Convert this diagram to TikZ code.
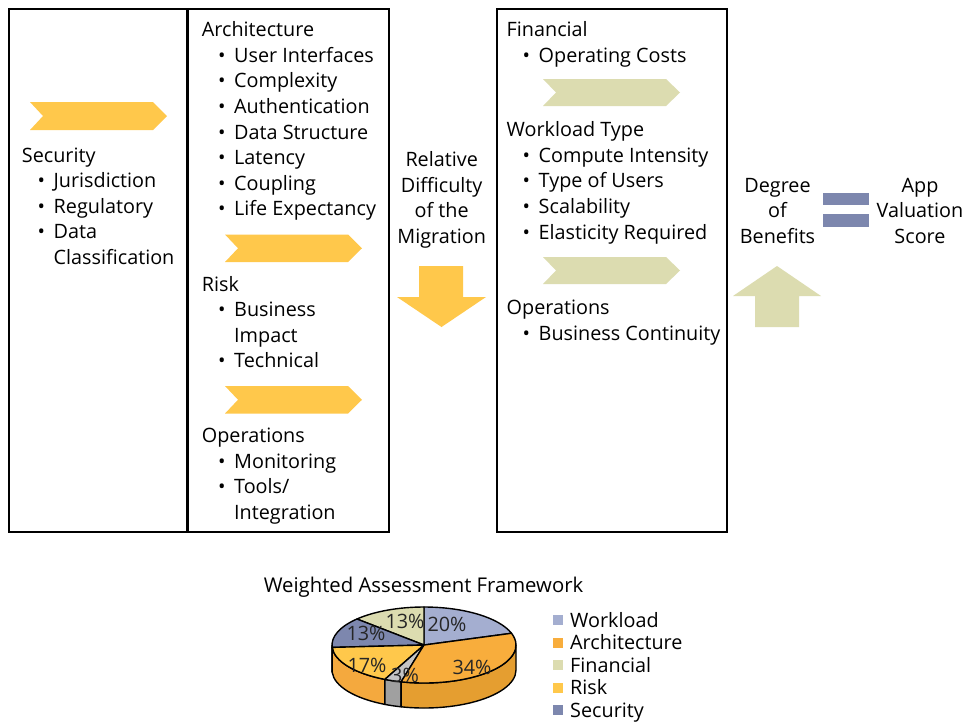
\documentclass[tikz,border=0pt]{standalone}
\usepackage{fontspec}
\setmainfont{Open Sans}
\definecolor{cgold}{HTML}{FFC84B}
\definecolor{ctan}{HTML}{DCDCB0}
\definecolor{cslate}{HTML}{7D87AE}
\definecolor{cwork}{HTML}{A4AED0}
\definecolor{carch}{HTML}{F8AD3C}
\definecolor{carchside}{HTML}{E59E30}
\definecolor{criskside}{HTML}{F4A93E}
\definecolor{cgray}{HTML}{C4C4C4}
\definecolor{cgrayside}{HTML}{A0A0A0}
\definecolor{csecside}{HTML}{65709A}
\newcommand\itm[1]{\makebox[16pt][l]{\textbullet}#1}
\tikzset{
  txt/.style={anchor=base west, inner sep=0pt, font=\fontsize{19.8}{24}\selectfont, text=black},
  ctxt/.style={anchor=base, inner sep=0pt, font=\fontsize{19.8}{24}\selectfont, text=black},
  pct/.style={anchor=center, inner sep=0pt, font=\fontsize{19.8}{24}\selectfont, text=black!85},
  frame/.style={draw=black, line width=2.3pt},
  pieline/.style={draw=black, line width=1.4pt, line join=round},
}
\begin{document}
\begin{tikzpicture}[x=1pt,y=-1pt]
\useasboundingbox[fill=white] (0,0) rectangle (966,721);
% frames
\draw[frame] (9,9) rectangle (389,532);
\draw[frame] (187.5,9) -- (187.5,532);
\draw[frame] (497,9) rectangle (727,532);
% chevrons
\fill[cgold] (30,102) -- (153,102) -- (167,116) -- (153,130) -- (30,130) -- (43,116) -- cycle;
\fill[cgold] (225,234.5) -- (348,234.5) -- (362,248.25) -- (348,262) -- (225,262) -- (238,248.25) -- cycle;
\fill[cgold] (225,386) -- (348,386) -- (362,399.75) -- (348,413.5) -- (225,413.5) -- (238,399.75) -- cycle;
\fill[ctan] (543,79) -- (666,79) -- (680,92.5) -- (666,106) -- (543,106) -- (556,92.5) -- cycle;
\fill[ctan] (543,257) -- (666,257) -- (680,270.5) -- (666,284) -- (543,284) -- (556,270.5) -- cycle;
% left column
\node[txt] (sec) at (21.7,162) {Security};
\node[txt] (sec1) at (37.5,187.6) {\itm{Jurisdiction}};
\node[txt] (sec2) at (37.5,213.2) {\itm{Regulatory}};
\node[txt] (sec3) at (37.5,238.8) {\itm{Data}};
\node[txt] (sec4) at (53.5,264.4) {Classification};
% middle column
\node[txt] (arc0) at (201.7,36.7) {Architecture};
\node[txt] (arc1) at (218,62.3) {\itm{User Interfaces}};
\node[txt] (arc2) at (218,87.9) {\itm{Complexity}};
\node[txt] (arc3) at (218,113.5) {\itm{Authentication}};
\node[txt] (arc4) at (218,139.1) {\itm{Data Structure}};
\node[txt] (arc5) at (218,164.7) {\itm{Latency}};
\node[txt] (arc6) at (218,190.3) {\itm{Coupling}};
\node[txt] (arc7) at (218,215.9) {\itm{Life Expectancy}};
\node[txt] (rsk0) at (201.7,291) {Risk};
\node[txt] (rsk1) at (218,316.6) {\itm{Business}};
\node[txt] (rsk2) at (234,342.2) {Impact};
\node[txt] (rsk3) at (218,367.8) {\itm{Technical}};
\node[txt] (ops0) at (201.7,442.7) {Operations};
\node[txt] (ops1) at (218,468.3) {\itm{Monitoring}};
\node[txt] (ops2) at (218,493.9) {\itm{Tools/}};
\node[txt] (ops3) at (234,519.5) {Integration};
% relative difficulty
\node[ctxt] (rd1) at (441.7,166.7) {Relative};
\node[ctxt] (rd2) at (441.7,192.3) {Difficulty};
\node[ctxt] (rd3) at (441.7,217.9) {of the};
\node[ctxt] (rd4) at (441.7,243.5) {Migration};
\fill[cgold] (419,266) -- (463,266) -- (463,297) -- (486,297) -- (441.5,327) -- (397,297) -- (419,297) -- cycle;
% right column
\node[txt] (fin0) at (506.5,36.7) {Financial};
\node[txt] (fin1) at (522.5,62.3) {\itm{Operating Costs}};
\node[txt] (wl0) at (506.5,136.7) {Workload Type};
\node[txt] (wl1) at (522.5,162.3) {\itm{Compute Intensity}};
\node[txt] (wl2) at (522.5,187.9) {\itm{Type of Users}};
\node[txt] (wl3) at (522.5,213.5) {\itm{Scalability}};
\node[txt] (wl4) at (522.5,239.1) {\itm{Elasticity Required}};
\node[txt] (op0) at (506.5,314.7) {Operations};
\node[txt] (op1) at (522.5,340.3) {\itm{Business Continuity}};
% degree of benefits
\node[ctxt] (db1) at (777.5,192.3) {Degree};
\node[ctxt] (db2) at (777.5,217.9) {of};
\node[ctxt] (db3) at (777.5,243.5) {Benefits};
\fill[ctan] (777,266) -- (821,296) -- (799,296) -- (799,327) -- (755,327) -- (755,296) -- (733,296) -- cycle;
\fill[cslate] (823,193) rectangle (869,205);
\fill[cslate] (823,214) rectangle (869,227);
\node[ctxt] (av1) at (920,192.3) {App};
\node[ctxt] (av2) at (920,217.9) {Valuation};
\node[ctxt] (av3) at (920,243.5) {Score};
% pie chart
\node[ctxt, font=\fontsize{20.3}{24}\selectfont] (tit) at (423.5,592) {Weighted Assessment Framework};
\begin{scope}[shift={(424,645)}]
  % sides
  \fill[csecside] (-180:92pt and 38pt) arc[start angle=-180,end angle=-176.4,x radius=92pt,y radius=38pt] -- ++(0pt,-25pt) arc[start angle=-176.4,end angle=-180,x radius=92pt,y radius=38pt] -- cycle;
  \filldraw[pieline,fill=criskside] (-176.4:92pt and 38pt) arc[start angle=-176.4,end angle=-115.2,x radius=92pt,y radius=38pt] -- ++(0pt,-25pt) arc[start angle=-115.2,end angle=-176.4,x radius=92pt,y radius=38pt] -- cycle;
  \filldraw[pieline,fill=cgrayside] (-115.2:92pt and 38pt) arc[start angle=-115.2,end angle=-104.4,x radius=92pt,y radius=38pt] -- ++(0pt,-25pt) arc[start angle=-104.4,end angle=-115.2,x radius=92pt,y radius=38pt] -- cycle;
  \filldraw[pieline,fill=carchside] (-104.4:92pt and 38pt) arc[start angle=-104.4,end angle=0,x radius=92pt,y radius=38pt] -- ++(0pt,-25pt) arc[start angle=0,end angle=-104.4,x radius=92pt,y radius=38pt] -- cycle;
  \draw[pieline] (-180:92pt and 38pt) -- ++(0pt,-25pt) arc[start angle=-180,end angle=-176.4,x radius=92pt,y radius=38pt];
  % tops
  \filldraw[pieline,fill=cwork] (0pt,0pt) -- (18:92pt and 38pt) arc[start angle=18,end angle=90,x radius=92pt,y radius=38pt] -- cycle;
  \filldraw[pieline,fill=ctan] (0pt,0pt) -- (90:92pt and 38pt) arc[start angle=90,end angle=136.8,x radius=92pt,y radius=38pt] -- cycle;
  \filldraw[pieline,fill=cslate] (0pt,0pt) -- (136.8:92pt and 38pt) arc[start angle=136.8,end angle=183.6,x radius=92pt,y radius=38pt] -- cycle;
  \filldraw[pieline,fill=cgold] (0pt,0pt) -- (183.6:92pt and 38pt) arc[start angle=183.6,end angle=244.8,x radius=92pt,y radius=38pt] -- cycle;
  \filldraw[pieline,fill=cgray] (0pt,0pt) -- (244.8:92pt and 38pt) arc[start angle=244.8,end angle=255.6,x radius=92pt,y radius=38pt] -- cycle;
  \filldraw[pieline,fill=carch] (0pt,0pt) -- (255.6:92pt and 38pt) arc[start angle=255.6,end angle=378,x radius=92pt,y radius=38pt] -- cycle;
\end{scope}
\node[pct] (p1) at (447,624) {20\%};
\node[pct] (p2) at (472,667) {34\%};
\node[pct] (p3) at (405,675) {3\%};
\node[pct] (p4) at (367,665) {17\%};
\node[pct] (p5) at (366,633) {13\%};
\node[pct] (p6) at (405,621) {13\%};
% legend
\fill[cwork] (553,615) rectangle (563,625);
\node[txt] (l1) at (570,627) {Workload};
\fill[carch] (553,637.6) rectangle (563,647.6);
\node[txt] (l2) at (570,649.6) {Architecture};
\fill[ctan] (553,660.2) rectangle (563,670.2);
\node[txt] (l3) at (570,672.2) {Financial};
\fill[cgold] (553,682.8) rectangle (563,692.8);
\node[txt] (l4) at (570,694.8) {Risk};
\fill[cslate] (553,705.4) rectangle (563,715.4);
\node[txt] (l5) at (570,717.4) {Security};
\end{tikzpicture}
\end{document}
